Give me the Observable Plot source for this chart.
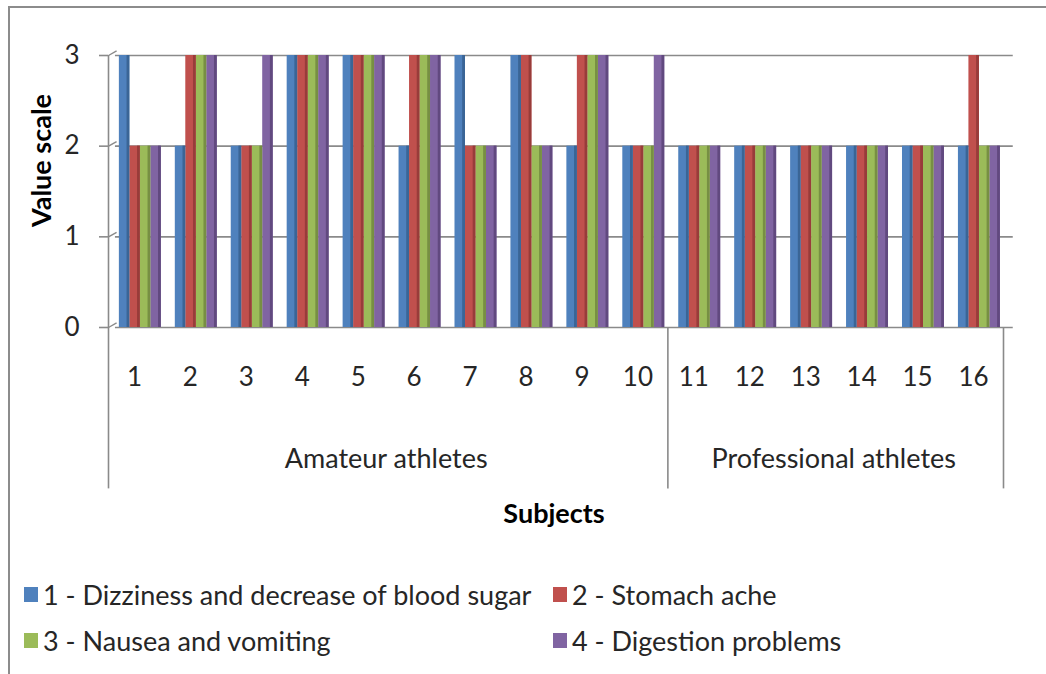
<!DOCTYPE html>
<html><head><meta charset="utf-8">
<script src="https://cdn.jsdelivr.net/npm/d3@7"></script>
<script src="https://cdn.jsdelivr.net/npm/@observablehq/plot@0.6"></script>
<style>
body{margin:0;background:#fff;font-family:Lato,sans-serif;}
#wrap{position:relative;width:1046px;height:674px;overflow:hidden;}
#frame{position:absolute;left:8px;top:6px;width:1100px;height:700px;border-top:2px solid #8c8c8c;border-left:2px solid #8c8c8c;}
#chart{position:absolute;left:0;top:0;}
#legend{position:absolute;left:24px;top:577px;display:grid;grid-template-columns:529px auto;row-gap:12px;}
.item{display:flex;align-items:center;font-size:27px;color:#262626;height:34px;white-space:nowrap;}
.sw{width:14px;height:15px;margin-right:5px;flex:none;}
</style></head><body>
<div id="wrap"><div id="frame"></div><div id="chart"></div><div id="legend"></div></div>
<script>
const subjects = [1,2,3,4,5,6,7,8,9,10,11,12,13,14,15,16];
const groupLabels = ["Amateur athletes", "Professional athletes"];
const groupFrom = [1, 11];
const groupTo = [10, 16];
const seriesNames = ["1 - Dizziness and decrease of blood sugar", "2 - Stomach ache", "3 - Nausea and vomiting", "4 - Digestion problems"];
const dizziness = [3,2,2,3,3,2,3,3,2,2,2,2,2,2,2,2];
const stomachAche = [2,3,2,3,3,3,2,3,3,2,2,2,2,2,2,3];
const nausea = [2,3,2,3,3,3,2,2,3,2,2,2,2,2,2,2];
const digestion = [2,3,3,3,3,3,2,2,3,3,2,2,2,2,2,2];
const yTicks = [0,1,2,3];
const xTitle = "Subjects";
const yTitle = "Value scale";

const seriesValues = [dizziness, stomachAche, nausea, digestion];
const colors = ["#4F81BD", "#C0504D", "#9BBB59", "#8064A2"];
const darkColors = ["#3A6596", "#983C3A", "#778F43", "#61497F"];

const rows = subjects.flatMap((s, i) => seriesNames.map((name, j) => ({subject: s, series: name, j, value: seriesValues[j][i]})));
const groups = groupLabels.map((label, k) => ({label, from: groupFrom[k], to: groupTo[k]}));
const bounds = [groupFrom[0] - 0.5, ...groupTo.map(t => t + 0.5)];

const H = 560, frameBottom = 327;
const barW = 0.1875, groupStart = -0.27, side = 0.05;

const chart = Plot.plot({
  width: 1046, height: H,
  marginLeft: 106, marginRight: 45, marginTop: 55, marginBottom: H - frameBottom,
  style: {fontFamily: "Lato, sans-serif", fontSize: "26px", color: "#262626", background: "transparent", overflow: "visible"},
  x: {type: "linear", domain: [0.5, 16.5], ticks: subjects, tickFormat: d => String(d), tickSize: 0, tickPadding: 40, label: null},
  y: {domain: [0, 3], ticks: yTicks, tickFormat: d => String(d), tickSize: 0, tickPadding: 27, label: null},
  color: {type: "identity"},
  marks: [
    Plot.ruleY(yTicks, {x1: 0.66, x2: 16.71, stroke: "#8a8a8a", strokeWidth: 1.6}),
    Plot.ruleY(yTicks, {x1: 0.375, x2: 0.536, stroke: "#8a8a8a", strokeWidth: 1.6}),
    Plot.link(yTicks, {x1: 0.536, y1: d => d, x2: 0.68, y2: d => d + 0.05, stroke: "#8a8a8a", strokeWidth: 1.4}),
    Plot.ruleX([bounds[0]], {y1: 0, y2: 3, dx: 2, stroke: "#8a8a8a", strokeWidth: 1.6}),
    Plot.ruleX(bounds, {y1: 0, y2: -1.78, dx: 2, stroke: "#8a8a8a", strokeWidth: 1.6}),
    Plot.rect(rows, {x1: d => d.subject + groupStart + d.j * barW, x2: d => d.subject + groupStart + (d.j + 1) * barW, y1: 0, y2: "value", fill: d => colors[d.j]}),
    Plot.rect(rows, {x1: d => d.subject + groupStart + (d.j + 1) * barW - side, x2: d => d.subject + groupStart + (d.j + 1) * barW, y1: 0, y2: "value", fill: d => darkColors[d.j]}),
    Plot.text(groups, {x: d => (d.from + d.to) / 2, y: -1.45, text: "label", fontSize: 27, fill: "#262626"}),
    Plot.text([xTitle], {text: d => d, frameAnchor: "bottom", dy: 195, fontWeight: "bold", fontSize: 27, fill: "#000"}),
    Plot.text([yTitle], {text: d => d, frameAnchor: "left", textAnchor: "middle", rotate: -90, dx: -64, dy: -31, fontWeight: "bold", fontSize: 27, fill: "#000"})
  ]
});
document.getElementById("chart").appendChild(chart);

const legend = document.getElementById("legend");
seriesNames.forEach((name, j) => {
  const item = document.createElement("div");
  item.className = "item";
  const sw = document.createElement("span");
  sw.className = "sw";
  sw.style.background = colors[j];
  item.appendChild(sw);
  item.appendChild(document.createTextNode(name));
  legend.appendChild(item);
});
</script>
</body></html>
